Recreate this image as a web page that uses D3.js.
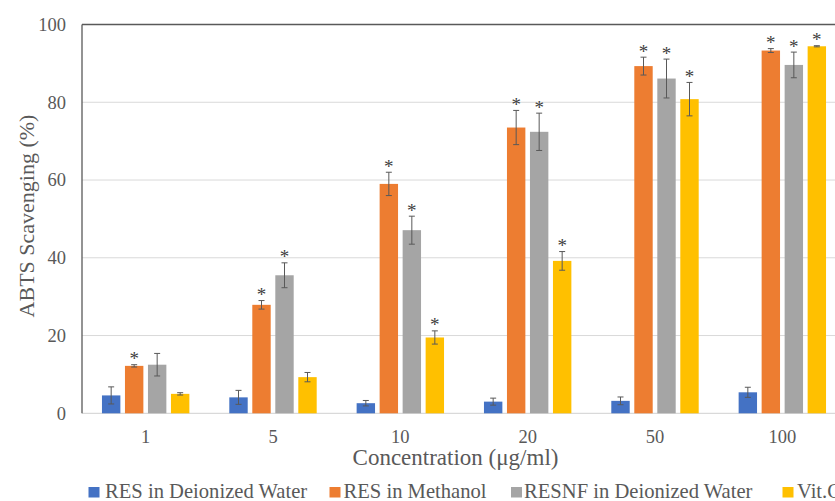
<!DOCTYPE html>
<html>
<head>
<meta charset="utf-8">
<script src="https://cdn.jsdelivr.net/npm/d3@7"></script>
<style>
  html, body { margin: 0; padding: 0; background: #fff; }
  svg { display: block; }
</style>
</head>
<body>
<svg id="chart" width="835" height="501"></svg>
<script>
// Concentrations on the x axis
const concentrations = ["1", "5", "10", "20", "50", "100"];
// Series names, in legend order
const seriesNames = ["RES in Deionized Water", "RES in Methanol", "RESNF in Deionized Water", "Vit.C"];
const seriesColors = ["#4472C4", "#ED7D31", "#A5A5A5", "#FFC000"];
// Mean scavenging (%) for each series across the concentrations
const resWater    = [4.6, 4.1, 2.6, 3.0, 3.2, 5.4];
const resMethanol = [12.2, 27.9, 59.0, 73.5, 89.3, 93.3];
const resnfWater  = [12.5, 35.5, 47.1, 72.4, 86.1, 89.6];
const vitC        = [5.0, 9.3, 19.5, 39.2, 80.8, 94.4];
// Standard deviations
const resWaterErr    = [2.2, 1.8, 0.7, 0.9, 1.0, 1.3];
const resMethanolErr = [0.3, 1.1, 3.0, 4.4, 2.3, 0.5];
const resnfWaterErr  = [2.9, 3.2, 3.6, 4.8, 5.0, 3.3];
const vitCErr        = [0.3, 1.2, 1.7, 2.4, 4.3, 0.15];
// Significance markers (1 = marked with *)
const resWaterSig    = [0, 0, 0, 0, 0, 0];
const resMethanolSig = [1, 1, 1, 1, 1, 1];
const resnfWaterSig  = [0, 1, 1, 1, 1, 1];
const vitCSig        = [0, 0, 1, 1, 1, 1];
const yTicks = [0, 20, 40, 60, 80, 100];

const values = [resWater, resMethanol, resnfWater, vitC];
const errors = [resWaterErr, resMethanolErr, resnfWaterErr, vitCErr];
const sigs = [resWaterSig, resMethanolSig, resnfWaterSig, vitCSig];

const rows = [];
seriesNames.forEach((s, si) => {
  concentrations.forEach((c, ci) => {
    rows.push({ series: s, si, conc: c, value: values[si][ci], err: errors[si][ci], sig: sigs[si][ci] });
  });
});

const svg = d3.select("#chart");
const serif = '"Liberation Serif"';
const textColor = "#595959";

const plotLeft = 82, plotRight = 846, plotTop = 24.5, plotBottom = 413.3;

const x0 = d3.scaleBand().domain(concentrations).range([plotLeft, plotRight]);
const x1 = d3.scaleBand().domain(seriesNames).range([0, 92]).paddingInner(0.2).paddingOuter(0.1);
const y = d3.scaleLinear().domain([0, 100]).range([plotBottom, plotTop]);
const color = d3.scaleOrdinal().domain(seriesNames).range(seriesColors);

const groupOffset = (x0.bandwidth() - 92) / 2;

// Horizontal gridlines
svg.append("g")
  .selectAll("line")
  .data(yTicks.filter(t => t > 0 && t < 100))
  .join("line")
  .attr("x1", plotLeft).attr("x2", 835)
  .attr("y1", d => y(d)).attr("y2", d => y(d))
  .attr("stroke", "#D9D9D9").attr("stroke-width", 1);

// Baseline
svg.append("line")
  .attr("x1", plotLeft).attr("x2", 835)
  .attr("y1", y(0)).attr("y2", y(0))
  .attr("stroke", "#D9D9D9").attr("stroke-width", 1.2);

// Frame: top and left edges
svg.append("line")
  .attr("x1", plotLeft).attr("x2", 835)
  .attr("y1", y(100)).attr("y2", y(100))
  .attr("stroke", "#595959").attr("stroke-width", 1.3);
svg.append("line")
  .attr("x1", plotLeft).attr("x2", plotLeft)
  .attr("y1", y(100)).attr("y2", y(0))
  .attr("stroke", "#595959").attr("stroke-width", 1.3);

// Y axis labels
const yAxis = d3.axisLeft(y).tickValues(yTicks).tickSize(0).tickPadding(16);
const gy = svg.append("g").attr("transform", `translate(${plotLeft},0)`).call(yAxis);
gy.select(".domain").remove();
gy.selectAll("text")
  .style("font-family", serif).style("font-size", "18.5px").attr("fill", textColor);

// X axis labels
const xAxis = d3.axisBottom(x0).tickSize(0).tickPadding(17);
const gx = svg.append("g").attr("transform", `translate(0,${y(0)})`).call(xAxis);
gx.select(".domain").remove();
gx.selectAll("text")
  .style("font-family", serif).style("font-size", "18.5px").attr("fill", textColor);

// Bars
const bx = d => x0(d.conc) + groupOffset + x1(d.series);
svg.append("g")
  .selectAll("rect")
  .data(rows)
  .join("rect")
  .attr("x", bx)
  .attr("width", x1.bandwidth())
  .attr("y", d => y(d.value))
  .attr("height", d => y(0) - y(d.value))
  .attr("fill", d => color(d.series));

// Error bars
const eb = svg.append("g").attr("stroke", "#595959").attr("stroke-width", 1);
const cx = d => bx(d) + x1.bandwidth() / 2;
eb.selectAll("line.v").data(rows).join("line").attr("class", "v")
  .attr("x1", cx).attr("x2", cx)
  .attr("y1", d => y(d.value + d.err)).attr("y2", d => y(d.value - d.err));
eb.selectAll("line.t").data(rows).join("line").attr("class", "t")
  .attr("x1", d => cx(d) - 3).attr("x2", d => cx(d) + 3)
  .attr("y1", d => y(d.value + d.err)).attr("y2", d => y(d.value + d.err));
eb.selectAll("line.b").data(rows).join("line").attr("class", "b")
  .attr("x1", d => cx(d) - 3).attr("x2", d => cx(d) + 3)
  .attr("y1", d => y(d.value - d.err)).attr("y2", d => y(d.value - d.err));

// Significance asterisks
svg.append("g")
  .selectAll("text")
  .data(rows.filter(d => d.sig))
  .join("text")
  .attr("x", cx)
  .attr("y", d => y(d.value + d.err) + 0.5)
  .attr("text-anchor", "middle")
  .style("font-family", serif).style("font-size", "19px").attr("fill", "#404040")
  .text("*");

// Axis titles
svg.append("text")
  .attr("transform", `translate(33.5,216) rotate(-90)`)
  .attr("text-anchor", "middle")
  .style("font-family", serif).style("font-size", "22px").attr("fill", textColor)
  .text("ABTS Scavenging (%)");

svg.append("text")
  .attr("x", 455.5).attr("y", 465)
  .attr("text-anchor", "middle")
  .style("font-family", serif).style("font-size", "23px").attr("fill", textColor)
  .text("Concentration (μg/ml)");

// Legend
const legendMarkerX = [88.5, 329.5, 511, 782.5];
const legendTextX = [105, 343.5, 524, 797];
const lg = svg.append("g").selectAll("g").data(seriesNames).join("g");
lg.append("rect")
  .attr("x", (d, i) => legendMarkerX[i]).attr("y", 487).attr("width", 11).attr("height", 10.5)
  .attr("fill", d => color(d));
lg.append("text")
  .attr("x", (d, i) => legendTextX[i]).attr("y", 498)
  .style("font-family", serif).style("font-size", "20.6px").attr("fill", textColor)
  .text(d => d);
</script>
</body>
</html>
